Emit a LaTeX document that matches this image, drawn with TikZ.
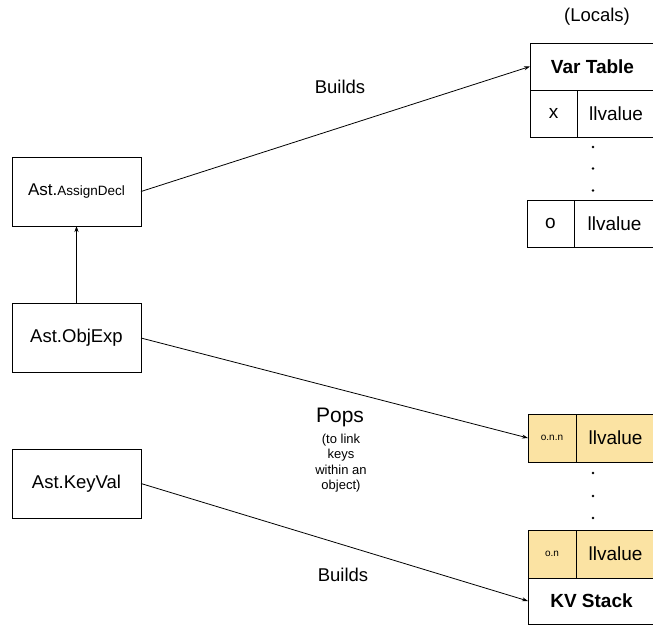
\documentclass[tikz,border=0pt]{standalone}
\usepackage{fontspec}
\setmainfont{Liberation Sans}
\usetikzlibrary{arrows.meta}
\definecolor{cellyellow}{HTML}{FBE3A3}
\begin{document}
\begin{tikzpicture}[x=1pt,y=-1pt,
  every node/.style={inner sep=0pt, outer sep=0pt},
  astbox/.style={draw, line width=0.8pt, minimum width=129pt, minimum height=69pt, font=\fontsize{18.5}{22}\selectfont},
  cell/.style={draw, line width=0.8pt, font=\fontsize{19}{22}\selectfont},
  ycell/.style={cell, fill=cellyellow},
  conn/.style={line width=0.8pt, -{Stealth[length=6pt,width=4pt]}},
  lbl/.style={font=\fontsize{18.5}{22}\selectfont},
  dot/.style={circle, fill=black, minimum size=2.6pt}]
\useasboundingbox (0,0) rectangle (653,625);
% left boxes
\node[astbox] (assign) at (76.5,191.5) {\fontsize{17}{20}\selectfont Ast.{\fontsize{13.5}{15}\selectfont AssignDecl}};
\node[astbox] (objexp) at (76.5,338) {Ast.ObjExp};
\node[astbox] (keyval) at (76.5,483.5) {Ast.KeyVal};
% Var table
\node[font=\fontsize{18.5}{22}\selectfont] (locals) at (597,17) {(Locals)};
\node[cell, minimum width=125pt, minimum height=47pt, font=\bfseries\fontsize{19}{22}\selectfont] (vartable) at (592.5,66.5) {Var Table};
\node[cell, minimum width=47pt, minimum height=47pt] (xkey) at (553.5,113.5) {x};
\node[cell, minimum width=78pt, minimum height=47pt] (xval) at (616,113.5) {llvalue};
\node[dot] (d1) at (593,147) {};
\node[dot] (d2) at (593,168.5) {};
\node[dot] (d3) at (593,190.5) {};
\node[cell, minimum width=47pt, minimum height=47pt] (okey) at (550.5,223.5) {o};
\node[cell, minimum width=81pt, minimum height=47pt] (oval) at (614.5,223.5) {llvalue};
% KV stack
\node[ycell, minimum width=48pt, minimum height=48pt, font=\fontsize{10}{12}\selectfont] (onnkey) at (552,438) {o.n.n};
\node[ycell, minimum width=79pt, minimum height=48pt] (onnval) at (615.5,438) {llvalue};
\node[dot] (d4) at (593,473) {};
\node[dot] (d5) at (593,496) {};
\node[dot] (d6) at (593,518) {};
\node[ycell, minimum width=48pt, minimum height=48pt, font=\fontsize{10}{12}\selectfont] (onkey) at (552,554) {o.n};
\node[ycell, minimum width=79pt, minimum height=48pt] (onval) at (615.5,554) {llvalue};
\node[cell, minimum width=127pt, minimum height=46pt, font=\bfseries\fontsize{19}{22}\selectfont] (kvstack) at (591.5,601) {KV Stack};
% connectors
\draw[conn] (objexp.north) -- (assign.south);
\draw[conn] (assign.east) -- (vartable.west);
\draw[conn] (objexp.east) -- (onnkey.west);
\draw[conn] (keyval.east) -- (kvstack.west);
% labels
\node[lbl] (builds1) at (340,87) {Builds};
\node[font=\fontsize{21}{24}\selectfont] (pops) at (340,417) {Pops};
\node[align=center, font=\fontsize{13}{15.3}\selectfont] (popsnote) at (341,463) {(to link\\keys\\within an\\object)};
\node[lbl] (builds2) at (343,575) {Builds};
\end{tikzpicture}
\end{document}
